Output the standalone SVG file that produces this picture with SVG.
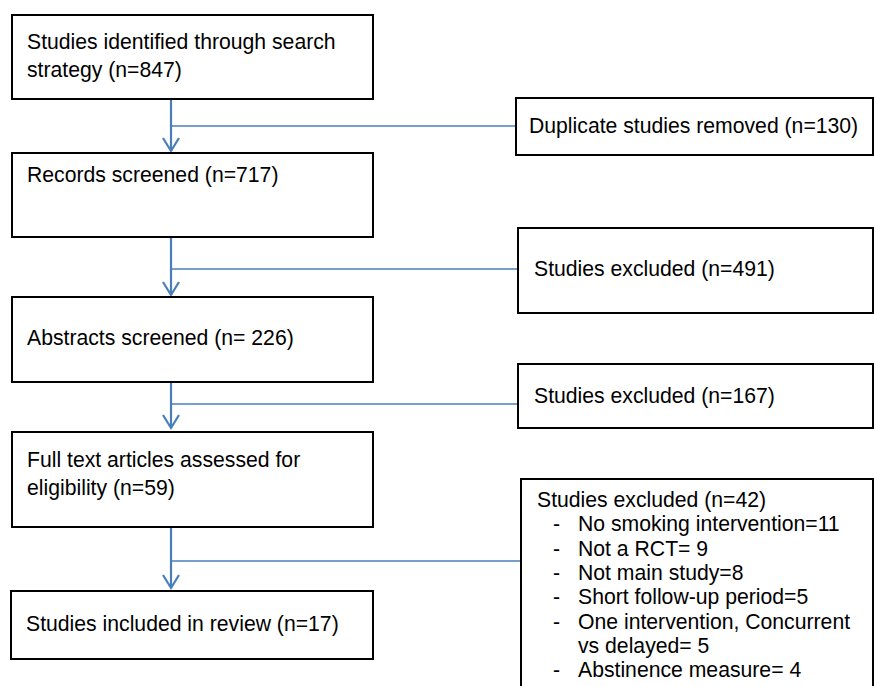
<svg xmlns="http://www.w3.org/2000/svg" width="874" height="686" viewBox="0 0 874 686">
<defs>
<style>
.box{fill:#fff;stroke:#000;stroke-width:2}
.t{font-family:"Liberation Sans",Arial,sans-serif;font-size:21.2px;fill:#000}
.v{stroke:#4a7ebb;stroke-width:2.2;fill:none}
.h{stroke:#4a7ebb;stroke-width:1.6;fill:none}
</style>
<marker id="ah" markerUnits="userSpaceOnUse" orient="auto" overflow="visible" markerWidth="20" markerHeight="20">
<path d="M-13,-8 L0,0 L-13,8" fill="none" stroke="#4a7ebb" stroke-width="2.2"/>
</marker>
</defs>
<rect width="874" height="686" fill="#fff"/>
<g id="connectors">
<line class="v" x1="171" y1="99" x2="171" y2="151" marker-end="url(#ah)"/>
<line class="h" x1="171" y1="126" x2="516" y2="126"/>
<line class="v" x1="171" y1="237" x2="171" y2="295" marker-end="url(#ah)"/>
<line class="h" x1="171" y1="269" x2="518" y2="269"/>
<line class="v" x1="171" y1="382" x2="171" y2="428" marker-end="url(#ah)"/>
<line class="h" x1="171" y1="404" x2="518" y2="404"/>
<line class="v" x1="171" y1="527" x2="171" y2="588" marker-end="url(#ah)"/>
<line class="h" x1="171" y1="561" x2="521" y2="561"/>
</g>
<g id="n1">
<rect class="box" x="12" y="15" width="361" height="84"/>
<text class="t" x="27" y="49">Studies identified through search</text>
<text class="t" x="27" y="77">strategy (n=847)</text>
</g>
<g id="n2">
<rect class="box" x="12" y="153" width="361" height="84"/>
<text class="t" x="27" y="182">Records screened (n=717)</text>
</g>
<g id="n3">
<rect class="box" x="12" y="297" width="361" height="85"/>
<text class="t" x="27" y="345">Abstracts screened (n= 226)</text>
</g>
<g id="n4">
<rect class="box" x="12" y="432" width="361" height="95"/>
<text class="t" x="27" y="467">Full text articles assessed for</text>
<text class="t" x="27" y="495">eligibility (n=59)</text>
</g>
<g id="n5">
<rect class="box" x="11" y="591" width="362" height="68"/>
<text class="t" x="26" y="631">Studies included in review (n=17)</text>
</g>
<g id="d1">
<rect class="box" x="516" y="98" width="357" height="57"/>
<text class="t" x="529" y="133">Duplicate studies removed (n=130)</text>
</g>
<g id="d2">
<rect class="box" x="518" y="228" width="355" height="85"/>
<text class="t" x="534" y="276">Studies excluded (n=491)</text>
</g>
<g id="d3">
<rect class="box" x="518" y="364" width="355" height="64"/>
<text class="t" x="534" y="403">Studies excluded (n=167)</text>
</g>
<g id="d4">
<rect class="box" x="521" y="479" width="352" height="220"/>
<text class="t" x="537" y="507">Studies excluded (n=42)</text>
<text class="t" x="553" y="531">-</text><text class="t" x="578" y="531">No smoking intervention=11</text>
<text class="t" x="553" y="556">-</text><text class="t" x="578" y="556">Not a RCT= 9</text>
<text class="t" x="553" y="580">-</text><text class="t" x="578" y="580">Not main study=8</text>
<text class="t" x="553" y="604">-</text><text class="t" x="578" y="604">Short follow-up period=5</text>
<text class="t" x="553" y="629">-</text><text class="t" x="578" y="629">One intervention, Concurrent</text>
<text class="t" x="578" y="653">vs delayed= 5</text>
<text class="t" x="553" y="677">-</text><text class="t" x="578" y="677">Abstinence measure= 4</text>
</g>
</svg>
